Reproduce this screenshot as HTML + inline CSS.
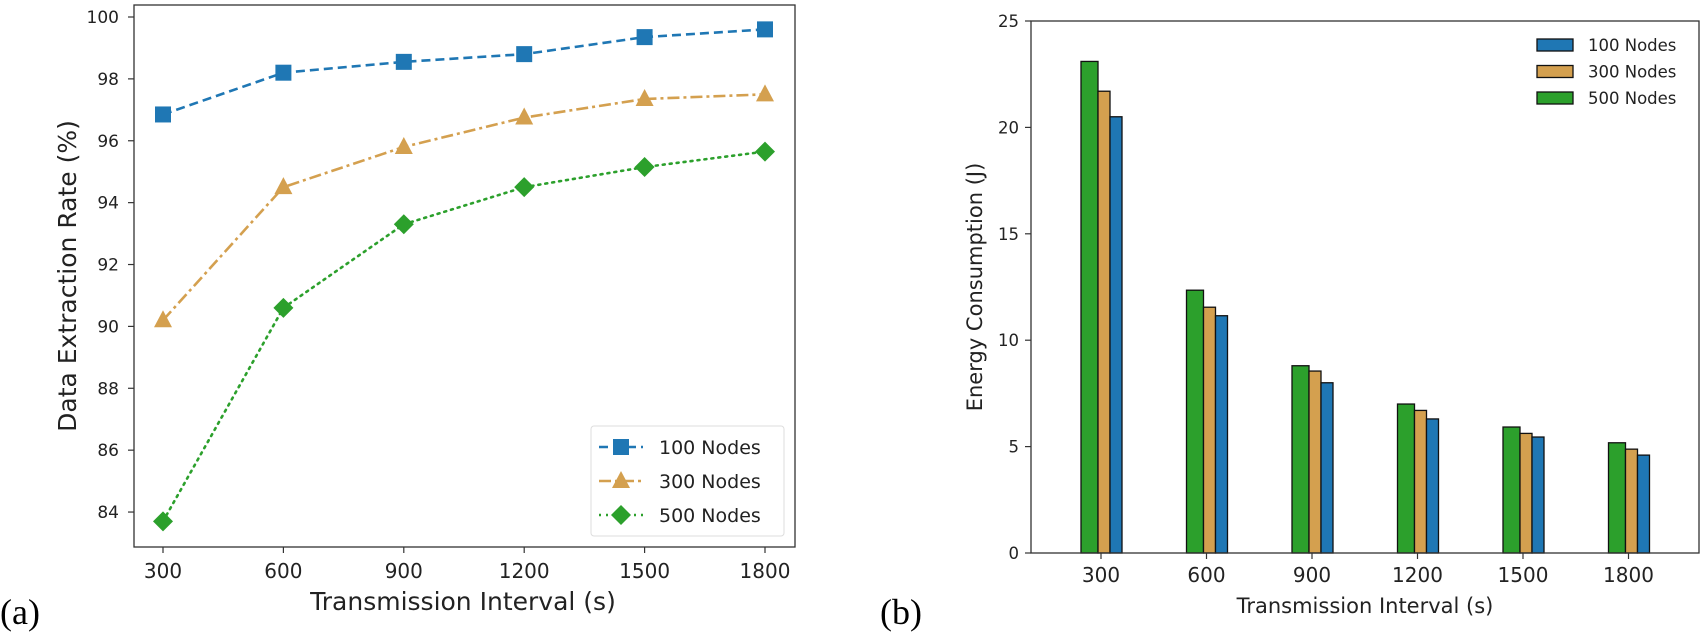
<!DOCTYPE html>
<html><head><meta charset="utf-8">
<style>
html,body{margin:0;padding:0;background:#fff;}
svg{display:block;font-family:"DejaVu Sans","Liberation Sans",sans-serif;}
</style></head>
<body>
<svg id="fig" width="1705" height="632" viewBox="0 0 1705 632" xmlns="http://www.w3.org/2000/svg">
<g id="left"></g>
<g id="right"></g>
<text x="0" y="624" font-family="Liberation Serif, serif" font-size="36" fill="#000">(a)</text>
<text x="880" y="624" font-family="Liberation Serif, serif" font-size="36" fill="#000">(b)</text>
</svg>
<script>
const intervals = [300, 600, 900, 1200, 1500, 1800];
const seriesNames = ["100 Nodes", "300 Nodes", "500 Nodes"];
const rate100 = [96.85, 98.2, 98.55, 98.8, 99.35, 99.6];
const rate300 = [90.2, 94.5, 95.8, 96.75, 97.35, 97.5];
const rate500 = [83.7, 90.6, 93.3, 94.5, 95.15, 95.65];
const rateTicks = [84, 86, 88, 90, 92, 94, 96, 98, 100];
const energy100 = [20.5, 11.15, 8.0, 6.3, 5.45, 4.6];
const energy300 = [21.7, 11.55, 8.55, 6.7, 5.62, 4.88];
const energy500 = [23.1, 12.35, 8.8, 7.0, 5.92, 5.18];
const energyTicks = [0, 5, 10, 15, 20, 25];

const NS = "http://www.w3.org/2000/svg";
function mk(parent, tag, attrs, text) {
  const e = document.createElementNS(NS, tag);
  for (const k in attrs) e.setAttribute(k, attrs[k]);
  if (text !== undefined) e.textContent = text;
  parent.appendChild(e);
  return e;
}
const BLUE = "#1f77b4", ORANGE = "#d4a04f", GREEN = "#2ca02c";

// ---------- Left chart ----------
const L = document.getElementById('left');
const lx = v => 163 + (v - 300) / 300 * 120.4;
const ly = v => 17 + (100 - v) * 30.94;
const axL = mk(L, 'rect', {x: 134, y: 5, width: 661, height: 542, fill: 'none', stroke: '#333', 'stroke-width': 1.3});


rateTicks.forEach(t => {
  const y = ly(t);
  const tk = mk(L, 'line', {x1: 128, x2: 134, y1: y, y2: y, stroke: '#333', 'stroke-width': 1.2});
  
  
  const tl = mk(L, 'text', {x: 119, y: y + 6, 'text-anchor': 'end', 'font-size': 17, fill: '#222'}, String(t));
  
  
});
intervals.forEach(t => {
  const x = lx(t);
  const tk = mk(L, 'line', {x1: x, x2: x, y1: 547, y2: 553, stroke: '#333', 'stroke-width': 1.2});
  
  
  const tl = mk(L, 'text', {x: x, y: 578, 'text-anchor': 'middle', 'font-size': 20, fill: '#222'}, String(t));
  
  
});
const lxl = mk(L, 'text', {x: 463, y: 610, 'text-anchor': 'middle', 'font-size': 25, fill: '#222'}, 'Transmission Interval (s)');


const lyl = mk(L, 'text', {x: 0, y: 0, transform: 'translate(76,276) rotate(-90)', 'text-anchor': 'middle', 'font-size': 25, fill: '#222'}, 'Data Extraction Rate (%)');



function marker(g, shape, x, y, color) {
  let m;
  if (shape === 'sq') m = mk(g, 'rect', {x: x - 8, y: y - 8, width: 16, height: 16, fill: color});
  else if (shape === 'tri') m = mk(g, 'polygon', {points: `${x},${y - 10} ${x - 9},${y + 7} ${x + 9},${y + 7}`, fill: color});
  else m = mk(g, 'polygon', {points: `${x},${y - 10} ${x + 10},${y} ${x},${y + 10} ${x - 10},${y}`, fill: color});
  return m;
}
const lineSeries = [
  {vals: rate100, color: BLUE, dash: '9,5', shape: 'sq', name: 'line-100-nodes'},
  {vals: rate300, color: ORANGE, dash: '12,4,3,4', shape: 'tri', name: 'line-300-nodes'},
  {vals: rate500, color: GREEN, dash: '2,5', shape: 'di', name: 'line-500-nodes'}
];
lineSeries.forEach(s => {
  const g = mk(L, 'g', {});
  
  
  const pts = s.vals.map((v, i) => lx(intervals[i]) + ',' + ly(v)).join(' ');
  mk(g, 'polyline', {points: pts, fill: 'none', stroke: s.color, 'stroke-width': 2.6, 'stroke-dasharray': s.dash, 'stroke-linecap': s.shape === 'di' ? 'round' : 'butt'});
  s.vals.forEach((v, i) => {
    const m = marker(g, s.shape, lx(intervals[i]), ly(v), s.color);
    
    
  });
});
const lg = mk(L, 'g', {});


mk(lg, 'rect', {x: 591, y: 426, width: 193, height: 110, rx: 3, fill: '#fff', 'fill-opacity': 0.85, stroke: '#ddd', 'stroke-width': 1});
lineSeries.forEach((s, i) => {
  const y = 447 + i * 34;
  const e = mk(lg, 'g', {});
  
  
  mk(e, 'line', {x1: 599, x2: 643, y1: y, y2: y, stroke: s.color, 'stroke-width': 2.6, 'stroke-dasharray': s.dash});
  marker(e, s.shape, 621, y, s.color);
  mk(e, 'text', {x: 659, y: y + 7, 'font-size': 19, fill: '#222'}, seriesNames[i]);
});

// ---------- Right chart ----------
const R = document.getElementById('right');
const rx = v => 1101 + (v - 300) / 300 * 105.5;
const ry = v => 553 - v * 21.28;
intervals.forEach((t, i) => {
  const c = rx(t);
  const bars = [
    {v: energy500[i], x0: c - 20, w: 17, color: GREEN, n: 'bar-500-nodes'},
    {v: energy300[i], x0: c - 3, w: 12, color: ORANGE, n: 'bar-300-nodes'},
    {v: energy100[i], x0: c + 9, w: 12, color: BLUE, n: 'bar-100-nodes'}
  ];
  bars.forEach(b => {
    const r = mk(R, 'rect', {x: b.x0, y: ry(b.v), width: b.w, height: ry(0) - ry(b.v), fill: b.color, stroke: '#111', 'stroke-width': 1.3});
    
    
  });
});
const axR = mk(R, 'rect', {x: 1031, y: 21, width: 668, height: 532, fill: 'none', stroke: '#333', 'stroke-width': 1.3});


energyTicks.forEach(t => {
  const y = ry(t);
  const tk = mk(R, 'line', {x1: 1025, x2: 1031, y1: y, y2: y, stroke: '#333', 'stroke-width': 1.2});
  
  
  const tl = mk(R, 'text', {x: 1019, y: y + 6, 'text-anchor': 'end', 'font-size': 16.5, fill: '#222'}, String(t));
  
  
});
intervals.forEach(t => {
  const x = rx(t);
  const tk = mk(R, 'line', {x1: x, x2: x, y1: 553, y2: 559, stroke: '#333', 'stroke-width': 1.2});
  
  
  const tl = mk(R, 'text', {x: x, y: 582, 'text-anchor': 'middle', 'font-size': 20, fill: '#222'}, String(t));
  
  
});
const rxl = mk(R, 'text', {x: 1365, y: 613, 'text-anchor': 'middle', 'font-size': 21, fill: '#222'}, 'Transmission Interval (s)');


const ryl = mk(R, 'text', {x: 0, y: 0, transform: 'translate(982,287) rotate(-90)', 'text-anchor': 'middle', 'font-size': 21, fill: '#222'}, 'Energy Consumption (J)');


const rg = mk(R, 'g', {});


[BLUE, ORANGE, GREEN].forEach((c, i) => {
  const y = 45 + i * 26.5;
  const e = mk(rg, 'g', {});
  
  
  mk(e, 'rect', {x: 1537, y: y - 6, width: 36, height: 12, fill: c, stroke: '#111', 'stroke-width': 1.3});
  mk(e, 'text', {x: 1588, y: y + 6, 'font-size': 16.5, fill: '#222'}, seriesNames[i]);
});
</script>
</body></html>
